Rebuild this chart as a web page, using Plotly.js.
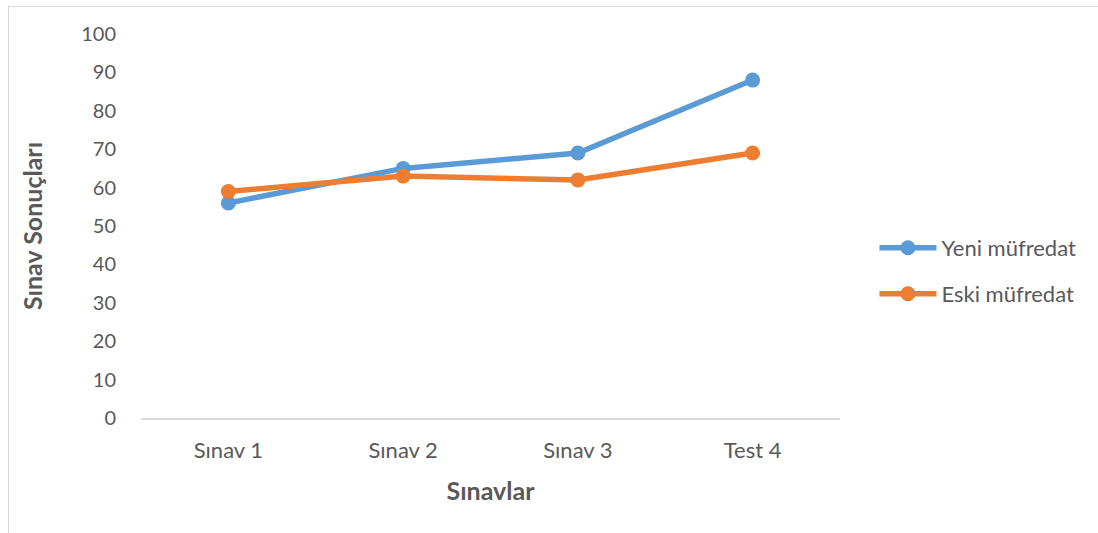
<!DOCTYPE html>
<html><head><meta charset="utf-8">
<script src="https://cdn.plot.ly/plotly-3.0.1.min.js"></script>
<style>
html,body{margin:0;padding:0;background:#fff;overflow:hidden;}
#frame{position:absolute;left:8px;top:6px;width:1200px;height:600px;border-left:1px solid #d9d9d9;border-top:1px solid #d9d9d9;}
#chart{position:absolute;left:0;top:0;width:1098px;height:533px;}
</style></head>
<body>
<div id="frame"></div>
<div id="chart"></div>
<script>
const categories = ["Sınav 1", "Sınav 2", "Sınav 3", "Test 4"];
const yeniValues = [56, 65, 69, 88];
const eskiValues = [59, 63, 62, 69];
const seriesNames = ["Yeni müfredat", "Eski müfredat"];
const yTickValues = [0, 10, 20, 30, 40, 50, 60, 70, 80, 90, 100];

const FONT = "Lato, 'Open Sans', sans-serif";
const data = [
  {x: categories, y: yeniValues, name: seriesNames[0], type: "scatter", mode: "lines+markers",
   line: {color: "#5B9BD5", width: 5.5}, marker: {color: "#5B9BD5", size: 15}, legend: "legend"},
  {x: categories, y: eskiValues, name: seriesNames[1], type: "scatter", mode: "lines+markers",
   line: {color: "#ED7D31", width: 5.5}, marker: {color: "#ED7D31", size: 15}, legend: "legend2"}
];
const legendFont = {size: 22, color: "#595959", family: FONT};
const layout = {
  width: 1098, height: 533,
  paper_bgcolor: "rgba(0,0,0,0)", plot_bgcolor: "rgba(0,0,0,0)",
  margin: {l: 140.5, r: 257.5, t: 34, b: 115},
  font: {family: FONT, color: "#595959", size: 20},
  xaxis: {
    type: "category", range: [-0.5, 3.5], showgrid: false, zeroline: false,
    showline: true, linecolor: "#d9d9d9", linewidth: 1.5,
    ticks: "outside", ticklen: 12, tickcolor: "rgba(0,0,0,0)",
    tickfont: {size: 22, color: "#595959", family: FONT},
    title: {text: "<b>Sınavlar</b>", font: {size: 25, color: "#595959", family: FONT}, standoff: 20}
  },
  yaxis: {
    range: [0, 100], tickvals: yTickValues, showgrid: false, zeroline: false, showline: false,
    ticks: "outside", ticklen: 20, tickcolor: "rgba(0,0,0,0)",
    tickfont: {size: 20, color: "#595959", family: FONT},
    title: {text: "<b>Sınav Sonuçları</b>", font: {size: 25, color: "#595959", family: FONT}, standoff: 31}
  },
  showlegend: true,
  legend: {x: 1.0493, y: 0.443, xanchor: "left", yanchor: "middle", bgcolor: "rgba(0,0,0,0)",
    itemwidth: 57, font: legendFont},
  legend2: {x: 1.0493, y: 0.323, xanchor: "left", yanchor: "middle", bgcolor: "rgba(0,0,0,0)",
    itemwidth: 57, font: legendFont}
};
Plotly.newPlot("chart", data, layout, {displayModeBar: false, staticPlot: true});
</script>
</body></html>
